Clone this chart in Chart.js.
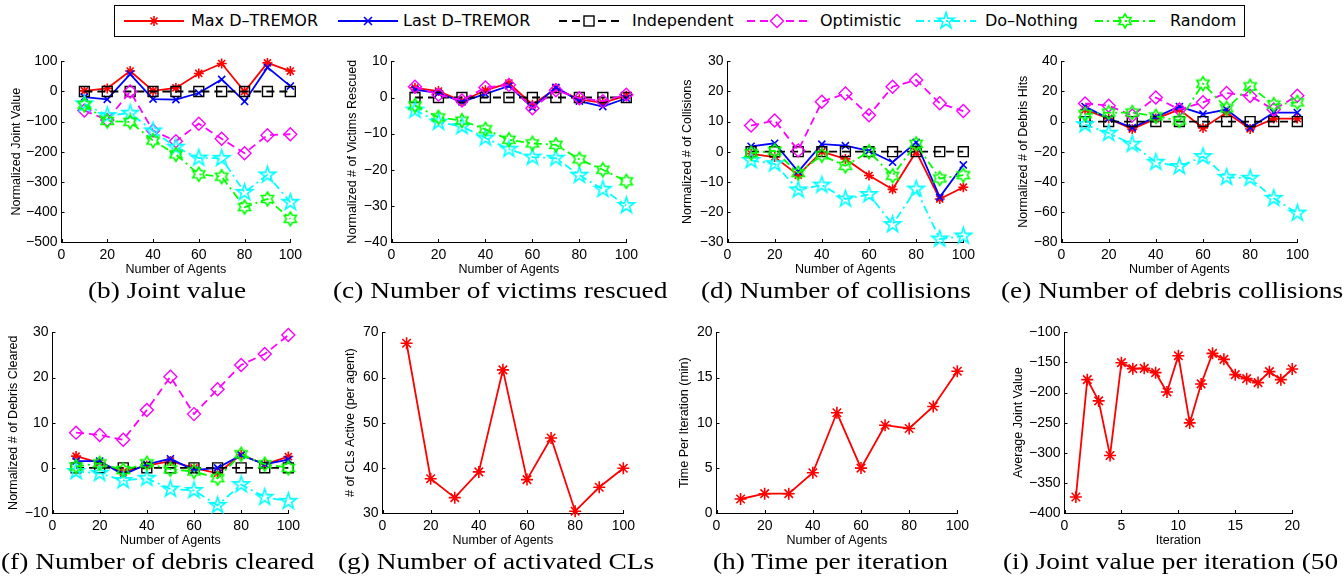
<!DOCTYPE html>
<html><head><meta charset="utf-8">
<script src="https://cdn.jsdelivr.net/npm/chart.js@4.4.0/dist/chart.umd.min.js"></script>
<style>
html,body{margin:0;padding:0;background:#fff;}
body{width:1344px;height:578px;overflow:hidden;position:relative;}
canvas.panel{position:absolute;}
.cap{position:absolute;font-family:"Liberation Serif",serif;font-size:23px;line-height:30px;height:30px;white-space:nowrap;color:#000;transform-origin:left center;}
#legend{position:absolute;top:5px;height:32px;border:1px solid #000;box-sizing:border-box;background:#fff;}
.lgtext{position:absolute;font-family:"DejaVu Sans",sans-serif;font-size:16px;line-height:20px;top:11px;white-space:nowrap;color:#000;}
.lgsym{position:absolute;top:6px;}
</style>
</head><body>
<div id="legend"></div>
<script>
// ---------------- DATA ----------------
const seriesNames = ['Max D\u2013TREMOR','Last D\u2013TREMOR','Independent','Optimistic','Do\u2013Nothing','Random'];
const agents = [10,20,30,40,50,60,70,80,90,100];
const iterations = [1,2,3,4,5,6,7,8,9,10,11,12,13,14,15,16,17,18,19,20];

const jointMax   = [2,10,68,2,12,60,93,0,95,68];
const jointLast  = [-19,-26,58,-25,-27,-5,40,-33,80,18];
const jointIndep = [0,0,0,0,0,0,0,0,0,0];
const jointOpt   = [-63,-95,0,-130,-165,-107,-157,-205,-145,-142];
const jointDo    = [-41,-80,-72,-131,-185,-221,-222,-335,-277,-368];
const jointRand  = [-45,-98,-101,-163,-209,-275,-283,-384,-357,-423];

const vicMax   = [2.7,1.8,-1,2,4,-2,2.5,-0.5,-1.5,0.5];
const vicLast  = [2.2,1.2,-1.2,1,3.2,-2.8,2.8,-1,-2.5,-0.2];
const vicIndep = [0,0,0,0,0,0,0,0,0,0];
const vicOpt   = [3,0.8,-0.8,2.8,3.5,-3,2,-0.2,-1,0.8];
const vicDo    = [-3.5,-6.8,-8,-11.2,-14.3,-16.5,-16.8,-21.5,-25.4,-29.9];
const vicRand  = [-2.2,-5.5,-6.4,-8.8,-11.7,-12.7,-13.1,-17.1,-20,-23.2];

const colMax   = [-0.7,-1.8,-7.8,0,-2.4,-7.9,-12.5,0,-15.7,-11.8];
const colLast  = [1.8,2.8,-6.6,2.5,2,0.3,-3.5,3.1,-15.1,-4.4];
const colIndep = [0,0,0,0,0,0,0,0,0,0];
const colOpt   = [8.7,10.4,0.4,16.6,19.3,12.1,21.6,23.8,16.1,13.5];
const colDo    = [-2.9,-4,-12.7,-11.1,-15.7,-14.2,-24.2,-12.4,-29,-28];
const colRand  = [-0.5,0.3,-7.1,-1.2,-4.7,0,-8,2.6,-8.9,-7.8];

const hitMax   = [8,2,-5,2,8,-4.2,6,-4.9,2,2];
const hitLast  = [10,2,-4,3,10,5,8,-4,6,6];
const hitIndep = [0,0,0,0,0,0,0,0,0,0];
const hitOpt   = [12,10.6,4,16,8,12.8,19,17,8,17.2];
const hitDo    = [-2,-7.7,-15,-27,-29.8,-23.2,-37,-37.6,-51,-60.8];
const hitRand  = [5,6,6,3.5,0.7,25.2,8.8,23.4,11.3,12.8];

const clrMax   = [2.6,1.1,-0.9,0.5,1.5,0,-1.2,2.9,0.8,2.5];
const clrLast  = [1.5,1.5,-1.5,0.8,2,-0.5,0,2.8,0.8,1.8];
const clrIndep = [0,0,0,0,0,0,0,0,0,0];
const clrOpt   = [7.8,7.3,6.2,12.8,20.2,11.9,17.4,22.8,25.2,29.4];
const clrDo    = [-0.8,-1.2,-2.8,-2.3,-4.7,-5,-8.3,-3.7,-6.5,-7.4];
const clrRand  = [0.3,1,-0.5,1,-0.3,-0.8,-2.3,3,0.8,0];

const activeCLs    = [67.6,37.6,33.4,39.1,61.7,37.4,46.6,30.4,35.7,39.9];
const timePerIter  = [1.55,2.14,2.14,4.46,11.1,4.97,9.72,9.36,11.8,15.7];
const jointPerIter = [-373.5,-178.5,-213.8,-304.4,-150.3,-160.2,-159.7,-166.9,-198.9,-138.7,-250.3,-185.6,-134.8,-144.8,-170.2,-176.8,-183.4,-165.2,-178.5,-160.8];

const yTicks_b = [-500,100,100], yTicks_c=[-40,10,10], yTicks_d=[-30,30,10], yTicks_e=[-80,40,20];
const yTicks_f = [-10,30,10], yTicks_g=[30,70,10], yTicks_h=[0,20,5], yTicks_i=[-400,-100,50];
const xTicksAgents = [0,100,20], xTicksIter = [0,20,5];

// ---------------- MARKERS ----------------
function drawPentagram(g,cx,cy,R,color,lw){
  const r=R*0.382; g.beginPath();
  for(let k=0;k<10;k++){const a=-Math.PI/2+k*Math.PI/5, rr=k%2?r:R;
    const x=cx+rr*Math.cos(a), y=cy+rr*Math.sin(a); k?g.lineTo(x,y):g.moveTo(x,y);}
  g.closePath(); g.strokeStyle=color; g.lineWidth=lw; g.setLineDash([]); g.stroke();
}
function drawHexagram(g,cx,cy,R,color,lw){
  const r=R*0.577; g.beginPath();
  for(let k=0;k<12;k++){const a=-Math.PI/2+k*Math.PI/6, rr=k%2?r:R;
    const x=cx+rr*Math.cos(a), y=cy+rr*Math.sin(a); k?g.lineTo(x,y):g.moveTo(x,y);}
  g.closePath(); g.strokeStyle=color; g.lineWidth=lw; g.setLineDash([]); g.stroke();
}
function markerCanvas(fn,R,color,lw){
  const s=Math.ceil(2*R+2*lw+2); const c=document.createElement('canvas'); c.width=s; c.height=s;
  fn(c.getContext('2d'),s/2,s/2,R,color,lw); return c;
}
const pentaImg = markerCanvas(drawPentagram,8.5,'#00ffff',1.6);
const hexaImg  = markerCanvas(drawHexagram,7,'#00ff00',1.6);

const styles = [
  {color:'#ff0000', dash:[], point:'star', r:5, bw:1.6},
  {color:'#0000ff', dash:[], point:'crossRot', r:5, bw:1.6},
  {color:'#000000', dash:[8,5], point:'rect', r:7, bw:1.4},
  {color:'#ff00ff', dash:[8,5], point:'rectRot', r:6.5, bw:1.4},
  {color:'#00ffff', dash:[8,4,2,4], point:pentaImg, r:8, bw:1.6},
  {color:'#00ff00', dash:[8,4,2,4], point:hexaImg, r:7, bw:1.6}
];

// ---------------- PANELS ----------------
const panels = [
 {L:61,T:61,R:289,B:242,yt:yTicks_b,xt:xTicksAgents,xs:agents,yTitle:'Normalized Joint Value',xTitle:'Number of Agents',diff:45,
  series:[jointMax,jointLast,jointIndep,jointOpt,jointDo,jointRand],cap:'(b) Joint value',capC:167,capY:291},
 {L:391,T:61,R:625,B:242,yt:yTicks_c,xt:xTicksAgents,xs:agents,yTitle:'Normalized # of Victims Rescued',xTitle:'Number of Agents',diff:39,
  series:[vicMax,vicLast,vicIndep,vicOpt,vicDo,vicRand],cap:'(c) Number of victims rescued',capC:500,capY:291},
 {L:727,T:61,R:962,B:242,yt:yTicks_d,xt:xTicksAgents,xs:agents,yTitle:'Normalized # of Collisions',xTitle:'Number of Agents',diff:40,
  series:[colMax,colLast,colIndep,colOpt,colDo,colRand],cap:'(d) Number of collisions',capC:836,capY:291},
 {L:1061,T:61,R:1296,B:242,yt:yTicks_e,xt:xTicksAgents,xs:agents,yTitle:'Normalized # of Debris Hits',xTitle:'Number of Agents',diff:38,
  series:[hitMax,hitLast,hitIndep,hitOpt,hitDo,hitRand],cap:'(e) Number of debris collisions',capC:1172,capY:291},
 {L:52,T:332,R:287,B:513,yt:yTicks_f,xt:xTicksAgents,xs:agents,yTitle:'Normalized # of Debris Cleared',xTitle:'Number of Agents',diff:39,
  series:[clrMax,clrLast,clrIndep,clrOpt,clrDo,clrRand],cap:'(f) Number of debris cleared',capC:157,capY:562},
 {L:382,T:332,R:622,B:513,yt:yTicks_g,xt:xTicksAgents,xs:agents,yTitle:'# of CLs Active (per agent)',xTitle:'Number of Agents',diff:32,
  series:[activeCLs],cap:'(g) Number of activated CLs',capC:496,capY:562,big:true},
 {L:716,T:332,R:956,B:513,yt:yTicks_h,xt:xTicksAgents,xs:agents,yTitle:'Time Per Iteration (min)',xTitle:'Number of Agents',diff:32,
  series:[timePerIter],cap:'(h) Time per iteration',capC:830,capY:562,big:true},
 {L:1064,T:332,R:1291,B:513,yt:yTicks_i,xt:xTicksIter,xs:iterations,yTitle:'Average Joint Value',xTitle:'Iteration',diff:46,
  series:[jointPerIter],cap:'(i) Joint value per iteration (50',capLeft:1003,capY:562,big:true}
];

Chart.defaults.font.family = '"Liberation Sans", Arial, sans-serif';
Chart.defaults.color = '#000';
const fmt = v => (v<0 ? '\u2212'+Math.abs(v) : String(v));

const tickMarks = {id:'tickMarks', beforeDatasetsDraw(chart){
  const ctx=chart.ctx, sx=chart.scales.x, sy=chart.scales.y, ca=chart.chartArea;
  ctx.save(); ctx.strokeStyle='#000'; ctx.lineWidth=1; ctx.beginPath();
  sx.ticks.forEach(t=>{const px=Math.round(sx.getPixelForValue(t.value))+0.5; ctx.moveTo(px,ca.bottom); ctx.lineTo(px,ca.bottom-3);});
  sy.ticks.forEach(t=>{const py=Math.round(sy.getPixelForValue(t.value))+0.5; ctx.moveTo(ca.left,py); ctx.lineTo(ca.left+3,py);});
  ctx.stroke(); ctx.restore();
}};

function buildConfig(p){
  const yW = p.diff + 7.5, xH = 35;
  const datasets = p.series.map((vals,i)=>{
    const st = styles[i];
    return {
      data: p.xs.map((x,k)=>({x:x,y:vals[k]})),
      borderColor: st.color, borderWidth: 1.8, borderDash: st.dash,
      pointStyle: st.point, pointRadius: p.big ? 6 : st.r, pointBorderWidth: st.bw,
      pointBorderColor: st.color, pointBackgroundColor: 'rgba(0,0,0,0)',
      pointHoverRadius: p.big ? 6 : st.r,
      tension: 0, fill: false, clip: false, order: -i
    };
  });
  const tickFont = {size:14, family:'"Liberation Sans", Arial, sans-serif'};
  const titleFont = {size:12.5, family:'"Liberation Sans", Arial, sans-serif', lineHeight:1.2};
  return {
    type:'line',
    data:{datasets},
    options:{
      responsive:false, maintainAspectRatio:false, animation:false, devicePixelRatio:1,
      layout:{padding:{top:4,right:4,left:0,bottom:0}},
      plugins:{legend:{display:false}, tooltip:{enabled:false}},
      events:[],
      scales:{
        x:{type:'linear', min:p.xt[0], max:p.xt[1],
           ticks:{stepSize:p.xt[2], font:tickFont, color:'#000', padding:5, maxRotation:0, autoSkip:false, callback:fmt},
           grid:{display:false, drawTicks:false}, border:{display:true, color:'#000', width:1},
           title:{display:true, text:p.xTitle, font:titleFont, color:'#000', padding:0},
           afterFit:s=>{s.height=xH;}},
        y:{type:'linear', min:p.yt[0], max:p.yt[1],
           ticks:{stepSize:p.yt[2], font:tickFont, color:'#000', padding:4, autoSkip:false, callback:fmt},
           grid:{display:false, drawTicks:false}, border:{display:true, color:'#000', width:1},
           title:{display:true, text:p.yTitle, font:titleFont, color:'#000', padding:0},
           afterFit:s=>{s.width=yW;}}
      }
    },
    plugins:[tickMarks]
  };
}

function setSize(cv,w,h){cv.width=w;cv.height=h;cv.style.width=w+'px';cv.style.height=h+'px';}

panels.forEach(p=>{
  const cv=document.createElement('canvas'); cv.className='panel';
  document.body.appendChild(cv);
  const pw=p.R-p.L, ph=p.B-p.T;
  let w=pw+p.diff+7.5+30, h=ph+35+30;
  setSize(cv,w,h);
  let chart=new Chart(cv,buildConfig(p));
  let ca=chart.chartArea;
  const dw=pw-(ca.right-ca.left), dh=ph-(ca.bottom-ca.top);
  if(Math.abs(dw)>0.01||Math.abs(dh)>0.01){
    chart.destroy(); w=Math.round(w+dw); h=Math.round(h+dh); setSize(cv,w,h);
    chart=new Chart(cv,buildConfig(p)); ca=chart.chartArea;
  }
  cv.style.left=(p.L-ca.left)+'px'; cv.style.top=(p.T-ca.top)+'px';

  const d=document.createElement('div'); d.className='cap'; d.textContent=p.cap;
  document.body.appendChild(d);
  const sc=1.19, wd=d.offsetWidth*sc;
  d.style.transform='scaleX('+sc+')';
  d.style.left=(p.capLeft!==undefined ? p.capLeft : (p.capC-wd/2))+'px';
  d.style.top=(p.capY-15)+'px';
});

// ---------------- LEGEND ----------------
const legendMarkerX = [null,368,589,777,946,1125];
const legendTextX   = [null,403,632,820,985,1170];
const lg=document.getElementById('legend');
const items=[];
seriesNames.forEach((name,i)=>{
  const t=document.createElement('span'); t.className='lgtext'; t.textContent=name;
  document.body.appendChild(t); items.push(t);
});
const maxW=items[0].offsetWidth;
legendTextX[0]=318-maxW; legendMarkerX[0]=legendTextX[0]-37;
items.forEach((t,i)=>{t.style.left=legendTextX[i]+'px';});
const boxL=legendMarkerX[0]-31-9, lastW=items[5].offsetWidth, boxR=legendTextX[5]+lastW+9;
lg.style.left=boxL+'px'; lg.style.width=(boxR-boxL)+'px';
styles.forEach((st,i)=>{
  const c=document.createElement('canvas'); c.className='lgsym'; c.width=62; c.height=30;
  c.style.left=(legendMarkerX[i]-31)+'px'; c.style.top='6px';
  document.body.appendChild(c);
  const g=c.getContext('2d');
  g.strokeStyle=st.color; g.lineWidth=1.8; g.setLineDash(st.dash);
  g.beginPath(); g.moveTo(1,15); g.lineTo(61,15); g.stroke(); g.setLineDash([]);
  const cx=31, cy=15;
  if(i===0){g.lineWidth=1.6; g.beginPath(); const r=5, q=r*Math.SQRT1_2;
    g.moveTo(cx-r,cy);g.lineTo(cx+r,cy);g.moveTo(cx,cy-r);g.lineTo(cx,cy+r);
    g.moveTo(cx-q,cy-q);g.lineTo(cx+q,cy+q);g.moveTo(cx-q,cy+q);g.lineTo(cx+q,cy-q);g.stroke();}
  if(i===1){g.lineWidth=1.6; g.beginPath(); const q=4;
    g.moveTo(cx-q,cy-q);g.lineTo(cx+q,cy+q);g.moveTo(cx-q,cy+q);g.lineTo(cx+q,cy-q);g.stroke();}
  if(i===2){g.clearRect(cx-8,cy-3,16,6); g.lineWidth=1.4; g.strokeRect(cx-5,cy-5,10,10);}
  if(i===3){g.clearRect(cx-9,cy-3,18,6); g.lineWidth=1.4; g.beginPath(); g.moveTo(cx,cy-6.5);g.lineTo(cx+6.5,cy);g.lineTo(cx,cy+6.5);g.lineTo(cx-6.5,cy);g.closePath(); g.stroke();}
  if(i===4){drawPentagram(g,cx,cy,8.5,st.color,1.6);}
  if(i===5){drawHexagram(g,cx,cy,7,st.color,1.6);}
});
</script>
</body></html>
